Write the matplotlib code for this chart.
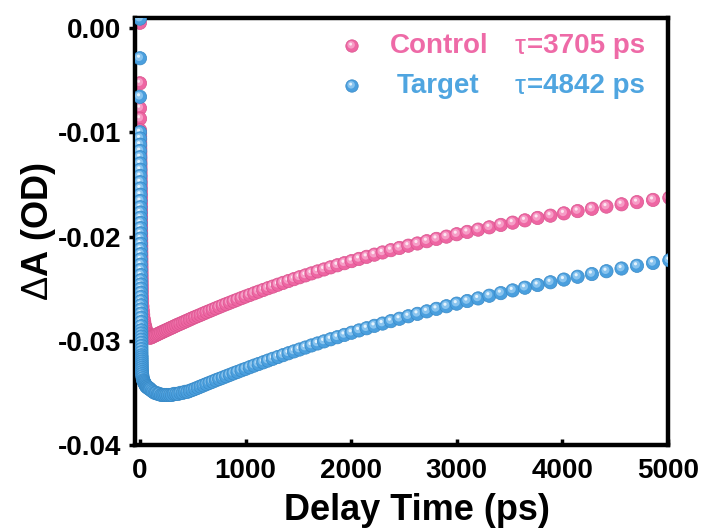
import numpy as np
import matplotlib
matplotlib.use("Agg")
from matplotlib import pyplot as plt
from matplotlib.path import Path

plt.rcParams['font.family'] = ['Liberation Sans', 'DejaVu Sans']
plt.rcParams['axes.unicode_minus'] = False
plt.rcParams['mathtext.fontset'] = 'custom'
plt.rcParams['mathtext.rm'] = 'Liberation Sans'
plt.rcParams['mathtext.it'] = 'Liberation Sans:italic'

# delay times (ps), shared by both traces
delay_ps = [
    -0.6, -0.3, 0.0, 0.3, 0.6, 0.9, 1.2, 1.5, 1.8, 2.1, 2.4, 2.7, 3.0, 3.3, 3.6,
    3.9, 4.2, 4.5, 4.8, 5.1, 5.4, 5.7, 6.0, 6.3, 6.6, 6.9, 7.2, 7.5, 7.8, 8.1,
    8.4, 8.7, 9.0, 9.3, 9.6, 9.9, 10.2, 10.5, 10.8, 11.1, 11.4, 11.7, 12.0, 12.3,
    12.6, 12.9, 13.2, 13.5, 13.8, 14.1, 14.4, 14.7, 15.0, 15.3, 15.6, 15.9, 16.2,
    18, 20, 23, 26, 30, 35, 40, 45, 50, 55, 60, 66, 72, 79, 86, 93,
    100, 113, 126, 140, 154, 169, 184, 200, 216, 232, 249, 266, 285, 303, 322,
    342, 362, 383, 405, 427, 449, 473,
    497, 522, 548, 574, 601, 629, 658, 688, 719, 750, 783, 816, 851, 886, 923,
    961, 999, 1039, 1081, 1123, 1167, 1212, 1258, 1306, 1355, 1406, 1458, 1511,
    1567, 1624, 1682, 1743, 1805, 1869, 1936, 2004, 2074, 2146, 2220, 2297, 2376,
    2457, 2541, 2627, 2716, 2807, 2902, 2999, 3099, 3202, 3308, 3417, 3529, 3645,
    3765, 3887, 4014, 4144, 4279, 4417, 4560, 4706, 4858, 5013,
]

control_dA = [
    0.0005, -0.0053, -0.0077, -0.0087,
    -0.0098, -0.0101, -0.0104, -0.0107, -0.0110, -0.0113, -0.0116, -0.0119, -0.0122, -0.0125,
    -0.0128, -0.0131, -0.0134, -0.0137, -0.0140, -0.0143, -0.0146, -0.0149, -0.0152, -0.0155,
    -0.0158, -0.0161, -0.0164, -0.0167, -0.0170, -0.0173, -0.0176, -0.0179, -0.0182, -0.0185,
    -0.0188, -0.0191, -0.0194, -0.0197, -0.0200, -0.0203, -0.0206, -0.0209, -0.0212, -0.0215,
    -0.0218, -0.0221, -0.0224, -0.0227, -0.0230, -0.0233, -0.0236, -0.0239, -0.0242, -0.0245,
    -0.0248, -0.0251, -0.0254,
    -0.0258, -0.0262, -0.0267, -0.0271, -0.0275, -0.0279, -0.0282, -0.0285, -0.0287, -0.0289,
    -0.0291, -0.0293, -0.0294, -0.0295, -0.0296, -0.0297,
    -0.02970, -0.02964, -0.02957, -0.02950, -0.02944, -0.02936, -0.02929, -0.02921, -0.02914,
    -0.02906, -0.02898, -0.02890, -0.02881, -0.02873, -0.02864, -0.02854, -0.02845, -0.02836,
    -0.02826, -0.02816, -0.02806, -0.02795,
    -0.02784, -0.02773, -0.02762, -0.02751, -0.02739, -0.02727, -0.02715, -0.02702, -0.02689,
    -0.02676, -0.02662, -0.02649, -0.02635, -0.02621, -0.02606, -0.02591, -0.02576, -0.02561,
    -0.02545, -0.02529, -0.02513, -0.02496, -0.02480, -0.02462, -0.02445, -0.02427, -0.02409,
    -0.02391, -0.02373, -0.02354, -0.02335, -0.02316, -0.02296, -0.02276, -0.02256, -0.02236,
    -0.02215, -0.02195, -0.02174, -0.02153, -0.02131, -0.02110, -0.02088, -0.02067, -0.02045,
    -0.02023, -0.02001, -0.01978, -0.01956, -0.01934, -0.01912, -0.01889, -0.01867, -0.01845,
    -0.01822, -0.01800, -0.01778, -0.01756, -0.01734, -0.01713, -0.01691, -0.01670, -0.01649,
    -0.01628,
]

target_dA = [
    0.0009, -0.0029, -0.0066, -0.0100,
    -0.0106, -0.0112, -0.0118, -0.0124, -0.0130, -0.0136, -0.0142, -0.0148, -0.0154, -0.0160,
    -0.0166, -0.0172,
    -0.0177, -0.0182, -0.0187, -0.0192, -0.0197, -0.0202, -0.0207, -0.0212, -0.0217, -0.0222,
    -0.0227, -0.0232, -0.0237, -0.0242,
    -0.0246, -0.0250, -0.0254, -0.0258, -0.0262, -0.0266, -0.0270, -0.0274, -0.0278, -0.0282,
    -0.0286, -0.0290,
    -0.0293, -0.0296, -0.0299, -0.0302, -0.0305, -0.0308, -0.0311, -0.0314,
    -0.0316, -0.0318, -0.0320, -0.0322, -0.0324, -0.0326, -0.0328,
    -0.0330, -0.0332, -0.0334, -0.0336, -0.0338, -0.0339, -0.0340, -0.0341, -0.0342, -0.0343,
    -0.0344, -0.0344, -0.0345, -0.0345, -0.0346, -0.0346,
    -0.0347, -0.0348, -0.0349, -0.0350, -0.0350, -0.0351, -0.0351, -0.0352, -0.0352, -0.0352,
    -0.0352, -0.0352, -0.0352, -0.0352, -0.0351, -0.0351, -0.0351, -0.0350, -0.0350, -0.0349,
    -0.0349, -0.0348,
    -0.03471, -0.03461, -0.03450, -0.03439, -0.03428, -0.03416, -0.03404, -0.03392, -0.03379,
    -0.03367, -0.03354, -0.03341, -0.03327, -0.03313, -0.03299, -0.03284, -0.03270, -0.03254,
    -0.03238, -0.03223, -0.03207, -0.03190, -0.03173, -0.03156, -0.03138, -0.03120, -0.03102,
    -0.03084, -0.03065, -0.03045, -0.03026, -0.03006, -0.02986, -0.02966, -0.02944, -0.02923,
    -0.02901, -0.02880, -0.02857, -0.02835, -0.02812, -0.02789, -0.02765, -0.02742, -0.02718,
    -0.02694, -0.02669, -0.02644, -0.02619, -0.02594, -0.02568, -0.02543, -0.02517, -0.02491,
    -0.02465, -0.02439, -0.02413, -0.02386, -0.02360, -0.02333, -0.02307, -0.02281, -0.02254,
    -0.02228,
]

x_ticks = [0, 1000, 2000, 3000, 4000, 5000]
y_ticks = [0.00, -0.01, -0.02, -0.03, -0.04]

# sphere colours: base, edge, soft light, specular
pink = ['#ee66a3', '#d9538d', '#f69cc6', '#fde6f1']
blue = ['#4a9fde', '#3889c6', '#88c3ee', '#e4f3fd']
pink_text = '#ee6aa7'
blue_text = '#4fa5e0'


def spheres(ax, x, y, cols, size, **kw):
    # each point drawn as base disc + light disc + highlight, interleaved
    xs = np.repeat(np.asarray(x, float), 3)
    ys = np.repeat(np.asarray(y, float), 3)
    sc = ax.scatter(xs, ys, s=size, marker='o', **kw)
    sc.set_paths([Path.circle((0, 0), 0.5),
                  Path.circle((-0.07, 0.09), 0.30),
                  Path.circle((-0.11, 0.15), 0.12)])
    sc.set_facecolors([cols[0], cols[2], cols[3]])
    sc.set_edgecolors([cols[1], 'none', 'none'])
    sc.set_linewidths([0.5, 0, 0])
    sc.set_sizes([size])
    return sc


fig = plt.figure(figsize=(7.06, 5.32), dpi=100)
ax = fig.add_axes([134.5 / 706, 1 - 445 / 532, (668 - 134.5) / 706, (445 - 18) / 532])

spheres(ax, delay_ps, control_dA, pink, 92, zorder=2)
spheres(ax, delay_ps, target_dA, blue, 92, zorder=3)

ax.set_xlim(-52, 5000)
ax.set_ylim(-0.04, 0.00096)
ax.set_xticks(x_ticks)
ax.set_yticks(y_ticks)
ax.set_yticklabels([f'{v:.2f}' for v in y_ticks])
for lab in ax.get_xticklabels() + ax.get_yticklabels():
    lab.set_fontweight('bold')

for s in ax.spines.values():
    s.set_linewidth(3.2)
ax.tick_params(axis='y', direction='out', length=4.5, width=2.5, labelsize=20, pad=5)
ax.tick_params(axis='x', direction='in', length=4, width=2.5, labelsize=20, pad=9)

ax.set_xlabel('Delay Time (ps)', fontsize=26, fontweight='bold', x=0.53, labelpad=7)
ax.set_ylabel(r'$\Delta$A (OD)', fontsize=26, fontweight='bold', labelpad=0)

# legend drawn by hand in figure pixels
leg = fig.add_axes([0, 0, 1, 1], facecolor='none')
leg.set_xlim(0, 706)
leg.set_ylim(532, 0)
leg.axis('off')
spheres(leg, [352], [46], pink, 80, clip_on=False)
spheres(leg, [352], [86], blue, 80, clip_on=False)
leg.text(390, 46, 'Control', color=pink_text, fontsize=20, fontweight='bold', va='center')
leg.text(397, 86, 'Target', color=blue_text, fontsize=20, fontweight='bold', va='center')
leg.text(515, 47, 'τ', color=pink_text, fontsize=20, fontweight='normal', va='center')
leg.text(527, 46, '=3705 ps', color=pink_text, fontsize=20, fontweight='bold', va='center')
leg.text(515, 87, 'τ', color=blue_text, fontsize=20, fontweight='normal', va='center')
leg.text(527, 86, '=4842 ps', color=blue_text, fontsize=20, fontweight='bold', va='center')

fig.savefig('out.png', dpi=100)
